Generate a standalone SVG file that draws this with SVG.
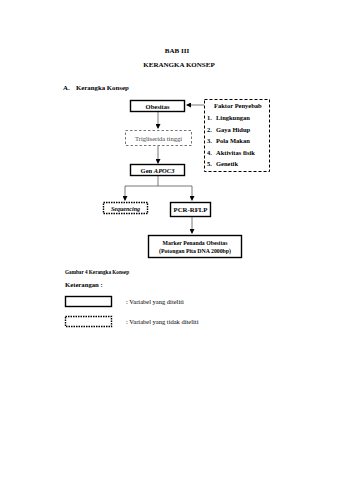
<svg xmlns="http://www.w3.org/2000/svg" width="339" height="480" viewBox="0 0 339 480">
<style>
text{font-family:"Liberation Serif","Times New Roman",serif;fill:#000}
.h{font-weight:bold;font-size:7px}
.t{font-size:6.5px}
.b{font-weight:bold}
.solid{fill:#fff;stroke:#000;stroke-width:1.4}
.dash{fill:#fff;stroke:#000;stroke-width:1;stroke-dasharray:3,2}
.dot{fill:#fff;stroke:#000;stroke-width:1.4;stroke-dasharray:1.5,1}
.grey{fill:#fff;stroke:#666;stroke-width:0.9;stroke-dasharray:2.5,2}
.c{fill:none;stroke:#555;stroke-width:0.8}
</style>
<defs>
<marker id="ah" markerWidth="5" markerHeight="5" refX="4" refY="2.5" orient="auto" markerUnits="userSpaceOnUse">
<path d="M0,0 L5,2.5 L0,5 z" fill="#000"/>
</marker>
</defs>
<rect width="339" height="480" fill="#fff"/>
<text class="h" x="177" y="53" text-anchor="middle">BAB III</text>
<text class="h" x="179" y="67" text-anchor="middle">KERANGKA KONSEP</text>
<text class="h" x="63" y="89.5" style="font-size:6.8px">A.</text>
<text class="h" x="76" y="89.5" style="font-size:6.8px">Kerangka Konsep</text>

<g id="connectors">
<line class="c" x1="158" y1="112" x2="158" y2="128" marker-end="url(#ah)"/>
<line class="c" x1="204" y1="105" x2="187" y2="105" marker-end="url(#ah)"/>
<line class="c" x1="158" y1="146" x2="158" y2="163" marker-end="url(#ah)"/>
<polyline class="c" points="158,176 158,186 125,186 125,200" marker-end="url(#ah)"/>
<polyline class="c" points="158,186 192,186 192,200" marker-end="url(#ah)"/>
<line class="c" x1="192" y1="217" x2="192" y2="233" marker-end="url(#ah)"/>
</g>

<g id="obesitas">
<rect class="solid" x="130.5" y="100.5" width="54" height="11"/>
<text class="t b" x="157.5" y="108.5" text-anchor="middle">Obesitas</text>
</g>
<g id="faktor">
<rect class="dash" x="204.5" y="99.5" width="65" height="72"/>
<text class="t b" x="214" y="108">Faktor Penyebab</text>
<text class="t b" x="207" y="120">1.</text><text class="t b" x="216" y="120">Lingkungan</text>
<text class="t b" x="207" y="131.5">2.</text><text class="t b" x="216" y="131.5">Gaya Hidup</text>
<text class="t b" x="207" y="143">3.</text><text class="t b" x="216" y="143">Pola Makan</text>
<text class="t b" x="207" y="154.5">4.</text><text class="t b" x="216" y="154.5">Aktivitas fisik</text>
<text class="t b" x="207" y="166">5.</text><text class="t b" x="216" y="166">Genetik</text>
</g>
<g id="trigliserida">
<rect class="grey" x="125.5" y="130.5" width="66" height="15"/>
<text class="t" x="158.5" y="140.5" text-anchor="middle" style="fill:#444">Trigliserida tinggi</text>
</g>
<g id="gen">
<rect class="solid" x="130.5" y="164.5" width="54" height="11"/>
<text class="t b" x="157.5" y="172.5" text-anchor="middle">Gen <tspan font-style="italic">APOC3</tspan></text>
</g>
<g id="sequencing">
<rect class="dot" x="103.5" y="202.5" width="44" height="11"/>
<text class="b" x="125.5" y="210.5" text-anchor="middle" font-style="italic" style="font-size:6px">Sequencing</text>
</g>
<g id="pcr">
<rect class="solid" x="170.5" y="202.5" width="40" height="14"/>
<text class="b" x="190.5" y="211.7" text-anchor="middle" style="font-size:6.8px">PCR-RFLP</text>
</g>
<g id="marker">
<rect class="solid" x="148.5" y="235.5" width="93" height="22"/>
<text class="b" x="195" y="244.5" text-anchor="middle" style="font-size:5.8px">Marker Penanda Obesitas</text>
<text class="b" x="195" y="253" text-anchor="middle" style="font-size:5.8px">(Potongan Pita DNA 2000bp)</text>
</g>

<text class="b" x="65" y="273.5" style="font-size:5.2px">Gambar 4  Kerangka Konsep</text>
<text class="b" x="65" y="287" style="font-size:6.7px">Keterangan :</text>
<g id="legend-solid">
<rect class="solid" x="65.5" y="296.5" width="46" height="10"/>
<text class="t" x="126" y="304">: Variabel yang diteliti</text>
</g>
<g id="legend-dashed">
<rect class="dot" x="65.5" y="316.5" width="46" height="10"/>
<text class="t" x="126" y="324">: Variabel yang tidak diteliti</text>
</g>
</svg>
